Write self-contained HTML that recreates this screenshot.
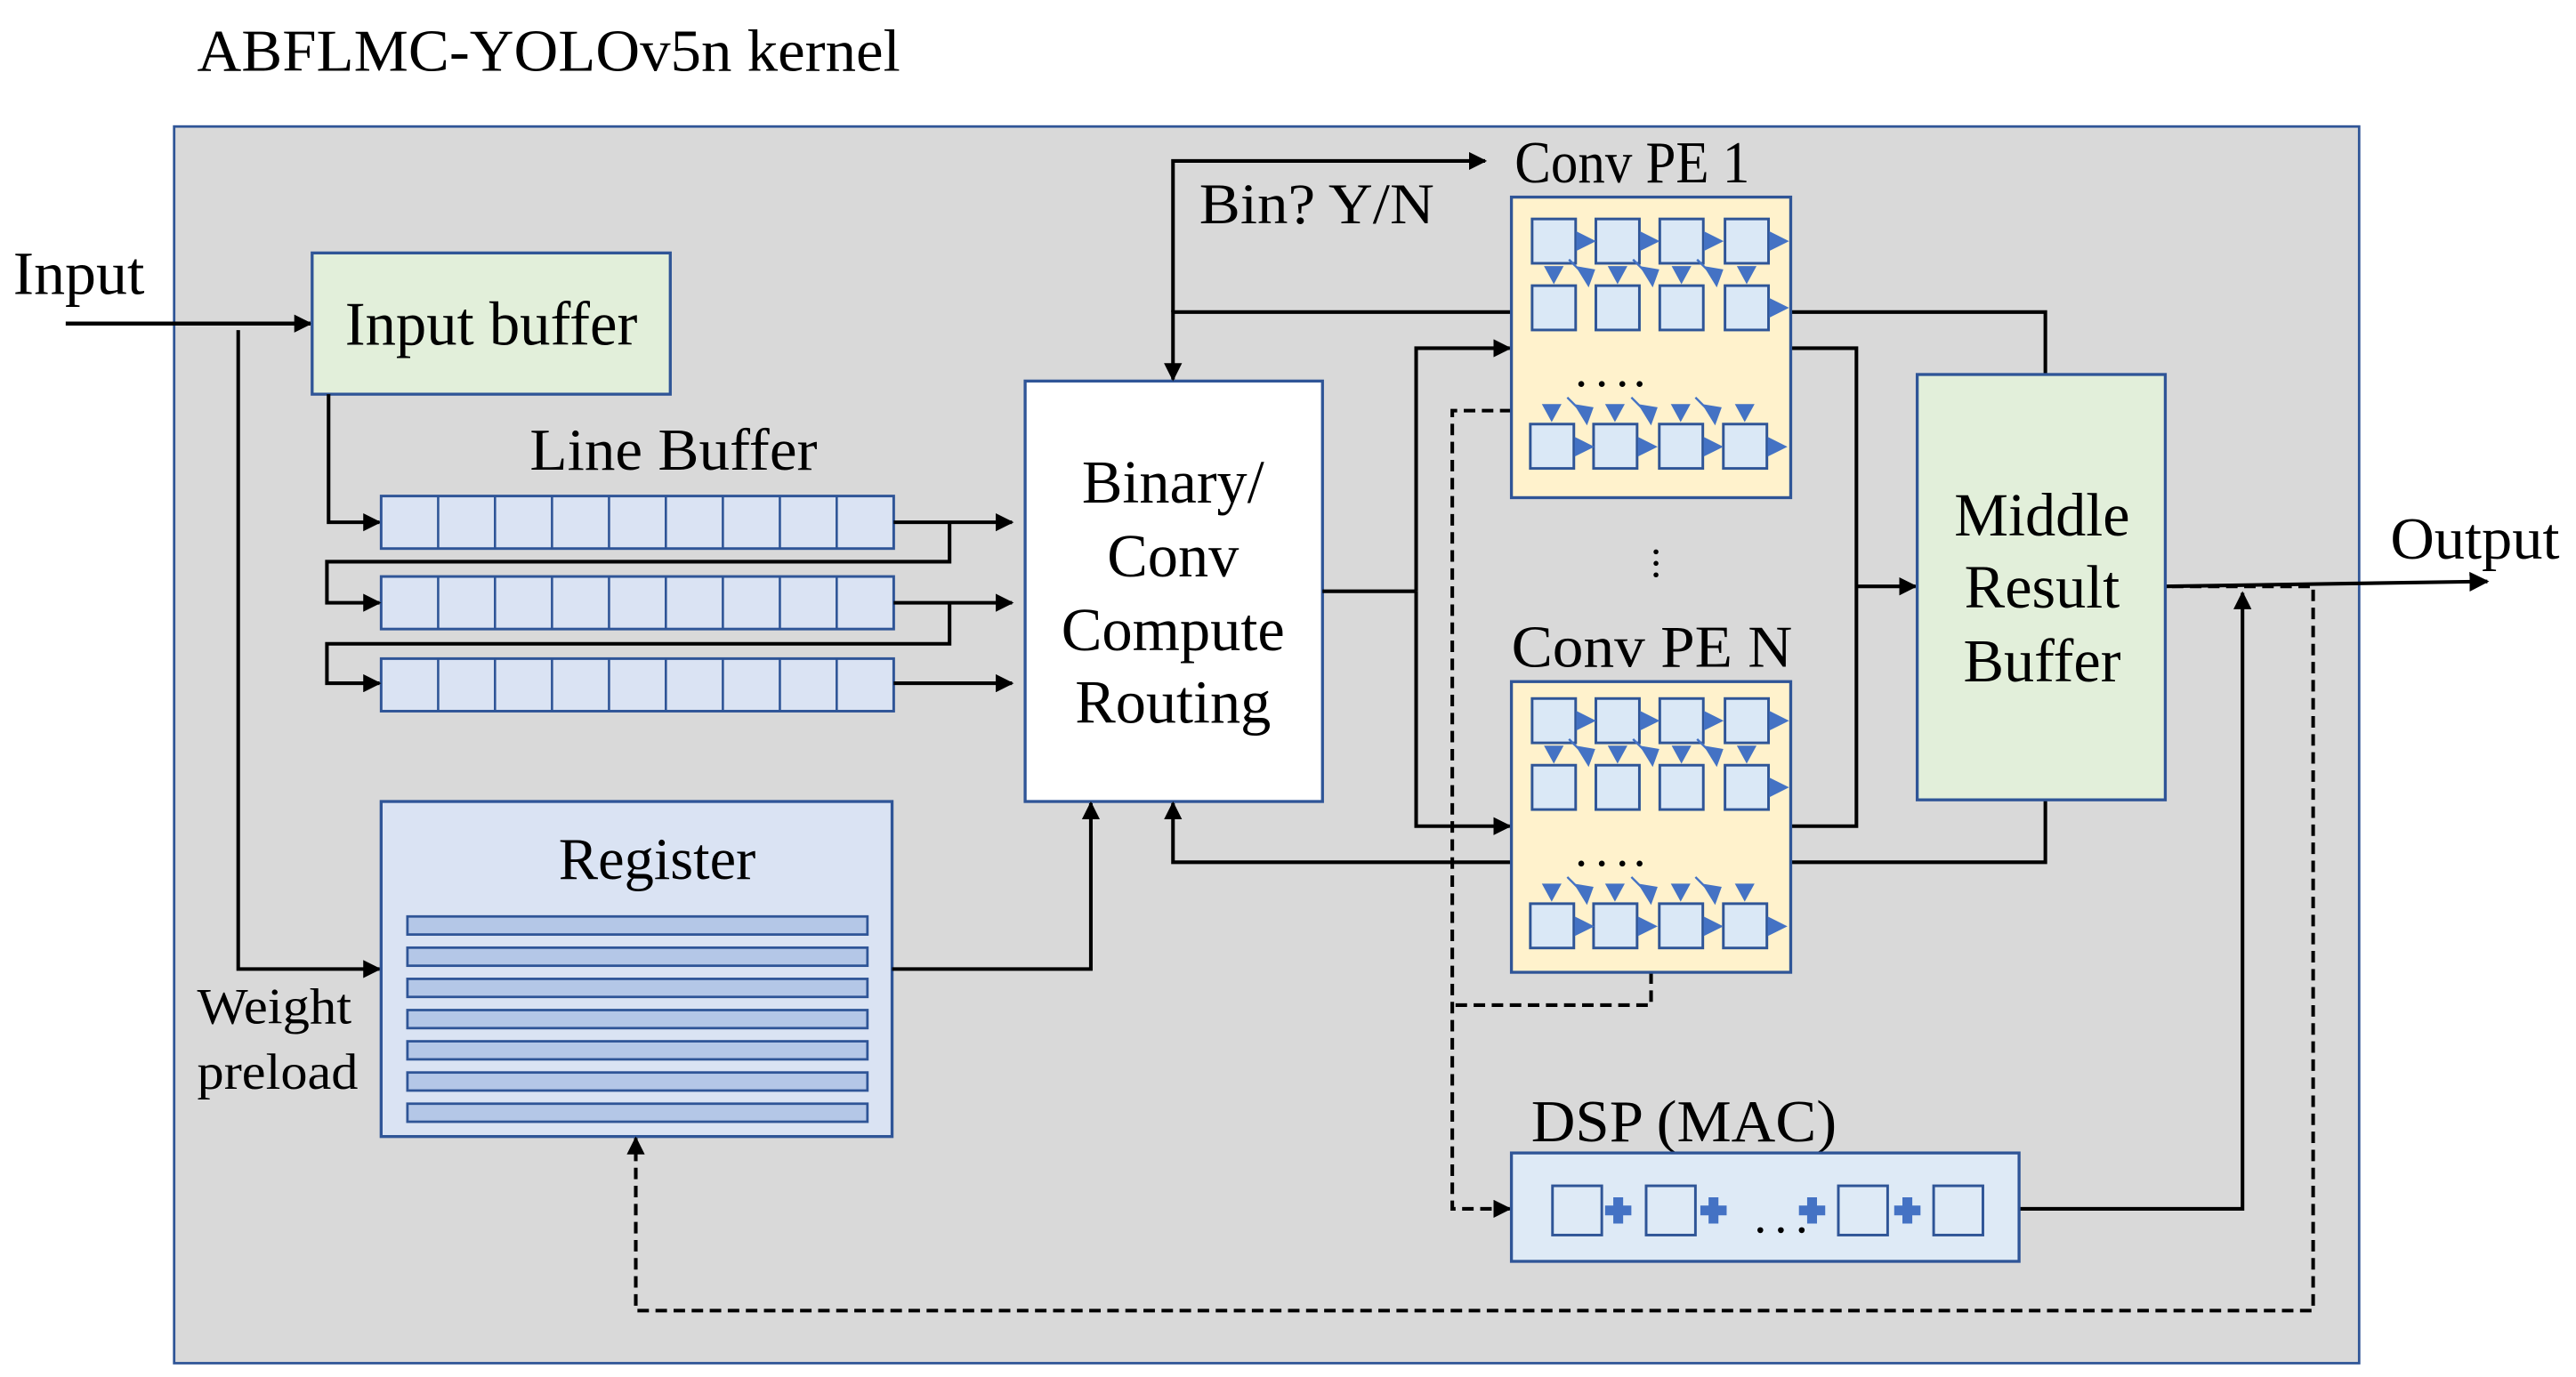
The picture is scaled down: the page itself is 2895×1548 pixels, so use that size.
<!DOCTYPE html>
<html><head><meta charset="utf-8"><style>
html,body{margin:0;padding:0;background:#fff;}
svg{display:block;}
text{font-family:"Liberation Serif",serif;fill:#000;}
</style></head><body>
<svg width="2895" height="1548" viewBox="0 0 1568 838.4" xmlns="http://www.w3.org/2000/svg">
<defs>
<marker id="ah" viewBox="0 0 10 10" refX="9" refY="5" markerWidth="11" markerHeight="11" orient="auto" markerUnits="userSpaceOnUse">
<path d="M0,0 L10,5 L0,10 z" fill="#000"/></marker>
<marker id="ah2" viewBox="0 0 10 10" refX="9" refY="5" markerWidth="12" markerHeight="12" orient="auto" markerUnits="userSpaceOnUse">
<path d="M0,0 L10,5 L0,10 z" fill="#000"/></marker>
<g id="sq"><rect width="26.5" height="27" fill="#dae8f6" stroke="#2f5597" stroke-width="1.6"/></g>
<g id="rt"><path d="M0,-6 L12,0 L0,6 z" fill="#4472c4"/></g>
<g id="dn"><path d="M-6,0 L6,0 L0,11 z" fill="#4472c4"/></g>
<g id="dg"><line x1="-9" y1="-7" x2="-2" y2="0" stroke="#4472c4" stroke-width="1.3"/><path d="M-5,-3 L7,-1 L3,10 z" fill="#4472c4"/></g>
<g id="pe">
<use href="#sq" x="12.6" y="13.3"/><use href="#sq" x="51.4" y="13.3"/><use href="#sq" x="90.3" y="13.3"/><use href="#sq" x="130" y="13.3"/>
<use href="#rt" x="39.5" y="26.8"/><use href="#rt" x="78.3" y="26.8"/><use href="#rt" x="117.2" y="26.8"/><use href="#rt" x="157" y="26.8"/>
<use href="#sq" x="12.6" y="53.9"/><use href="#sq" x="51.4" y="53.9"/><use href="#sq" x="90.3" y="53.9"/><use href="#sq" x="130" y="53.9"/>
<use href="#rt" x="157" y="67.4"/>
<use href="#dn" x="25.8" y="42"/><use href="#dn" x="64.6" y="42"/><use href="#dn" x="103.5" y="42"/><use href="#dn" x="143.2" y="42"/>
<use href="#dg" x="44" y="45"/><use href="#dg" x="83" y="45"/><use href="#dg" x="122" y="45"/>
<circle cx="42.5" cy="113.8" r="1.8"/><circle cx="55" cy="113.8" r="1.8"/><circle cx="67.5" cy="113.8" r="1.8"/><circle cx="78" cy="113.8" r="1.8"/>
<use href="#sq" x="11.5" y="138.2"/><use href="#sq" x="50" y="138.2"/><use href="#sq" x="90" y="138.2"/><use href="#sq" x="129" y="138.2"/>
<use href="#rt" x="38.5" y="152"/><use href="#rt" x="77" y="152"/><use href="#rt" x="117" y="152"/><use href="#rt" x="156" y="152"/>
<use href="#dn" x="24.5" y="126"/><use href="#dn" x="63" y="126"/><use href="#dn" x="103" y="126"/><use href="#dn" x="142" y="126"/>
<use href="#dg" x="43" y="129"/><use href="#dg" x="82" y="129"/><use href="#dg" x="121" y="129"/>
</g>
</defs>
<rect width="1568" height="838.4" fill="#fff"/>
<text x="120" y="43" font-size="36" textLength="428" lengthAdjust="spacingAndGlyphs">ABFLMC-YOLOv5n kernel</text>
<rect x="106" y="77" width="1330" height="753" fill="#d9d9d9" stroke="#2f5597" stroke-width="1.5"/>

<text x="8" y="179" font-size="37" textLength="80" lengthAdjust="spacingAndGlyphs">Input</text>
<line x1="40" y1="197" x2="189" y2="197" stroke="#000" stroke-width="2.5" marker-end="url(#ah)"/>
<rect x="190" y="154" width="218" height="86" fill="#e2efda" stroke="#2f5597" stroke-width="1.8"/>
<text x="299" y="210" font-size="38" text-anchor="middle" textLength="178" lengthAdjust="spacingAndGlyphs">Input buffer</text>
<polyline points="145,201 145,590 231,590" fill="none" stroke="#000" stroke-width="2.2" marker-end="url(#ah)"/>
<text x="120" y="623" font-size="31" textLength="94" lengthAdjust="spacingAndGlyphs">Weight</text>
<text x="120" y="663" font-size="31" textLength="98" lengthAdjust="spacingAndGlyphs">preload</text>

<text x="410" y="286" font-size="36" text-anchor="middle" textLength="175" lengthAdjust="spacingAndGlyphs">Line Buffer</text>
<polyline points="200,240 200,318 231,318" fill="none" stroke="#000" stroke-width="2.2" marker-end="url(#ah)"/>
<g stroke="#2f5597" stroke-width="1.6" fill="#dae3f3">
<rect x="232" y="302" width="312" height="32"/><rect x="232" y="351" width="312" height="32"/><rect x="232" y="401" width="312" height="32"/>
</g>
<g stroke="#2f5597" stroke-width="1.4">
<line x1="266.7" y1="302" x2="266.7" y2="334"/><line x1="301.3" y1="302" x2="301.3" y2="334"/><line x1="336" y1="302" x2="336" y2="334"/><line x1="370.7" y1="302" x2="370.7" y2="334"/><line x1="405.3" y1="302" x2="405.3" y2="334"/><line x1="440" y1="302" x2="440" y2="334"/><line x1="474.7" y1="302" x2="474.7" y2="334"/><line x1="509.3" y1="302" x2="509.3" y2="334"/>
<line x1="266.7" y1="351" x2="266.7" y2="383"/><line x1="301.3" y1="351" x2="301.3" y2="383"/><line x1="336" y1="351" x2="336" y2="383"/><line x1="370.7" y1="351" x2="370.7" y2="383"/><line x1="405.3" y1="351" x2="405.3" y2="383"/><line x1="440" y1="351" x2="440" y2="383"/><line x1="474.7" y1="351" x2="474.7" y2="383"/><line x1="509.3" y1="351" x2="509.3" y2="383"/>
<line x1="266.7" y1="401" x2="266.7" y2="433"/><line x1="301.3" y1="401" x2="301.3" y2="433"/><line x1="336" y1="401" x2="336" y2="433"/><line x1="370.7" y1="401" x2="370.7" y2="433"/><line x1="405.3" y1="401" x2="405.3" y2="433"/><line x1="440" y1="401" x2="440" y2="433"/><line x1="474.7" y1="401" x2="474.7" y2="433"/><line x1="509.3" y1="401" x2="509.3" y2="433"/>
</g>
<g stroke="#000" stroke-width="2.2" fill="none">
<line x1="544" y1="318" x2="616" y2="318" marker-end="url(#ah)"/>
<line x1="544" y1="367" x2="616" y2="367" marker-end="url(#ah)"/>
<line x1="544" y1="416" x2="616" y2="416" marker-end="url(#ah)"/>
<polyline points="578,318 578,342 199,342 199,367 231,367" marker-end="url(#ah)"/>
<polyline points="578,367 578,392 199,392 199,416 231,416" marker-end="url(#ah)"/>
</g>

<rect x="624" y="232" width="181" height="256" fill="#fff" stroke="#2f5597" stroke-width="1.8"/>
<g font-size="37" text-anchor="middle">
<text x="714" y="306">Binary/</text><text x="714" y="351">Conv</text><text x="714" y="396" textLength="136" lengthAdjust="spacingAndGlyphs">Compute</text><text x="714" y="440">Routing</text>
</g>

<rect x="232" y="488" width="311" height="204" fill="#dae3f3" stroke="#2f5597" stroke-width="1.8"/>
<text x="400" y="535" font-size="36" text-anchor="middle">Register</text>
<g fill="#b4c7e7" stroke="#2f5597" stroke-width="1.5">
<rect x="248" y="558" width="280" height="11"/><rect x="248" y="577" width="280" height="11"/><rect x="248" y="596" width="280" height="11"/><rect x="248" y="615" width="280" height="11"/><rect x="248" y="634" width="280" height="11"/><rect x="248" y="653" width="280" height="11"/><rect x="248" y="672" width="280" height="11"/>
</g>

<g stroke="#000" stroke-width="2.2" fill="none">
<polyline points="543,590 664,590 664,489" marker-end="url(#ah)"/>
<polyline points="920,525 714,525 714,489" marker-end="url(#ah)"/>
<polyline points="714,190 714,98 904,98" marker-end="url(#ah)"/>
<polyline points="920,190 714,190 714,231" marker-end="url(#ah)"/>
<polyline points="805,360 862,360"/>
<polyline points="862,360 862,212 919,212" marker-end="url(#ah)"/>
<polyline points="862,360 862,503 919,503" marker-end="url(#ah)"/>
<polyline points="1090,190 1245,190 1245,228"/>
<polyline points="1090,212 1130,212 1130,503 1090,503"/>
<line x1="1130" y1="357" x2="1166" y2="357" marker-end="url(#ah)"/>
<polyline points="1090,525 1245,525 1245,487"/>
<line x1="1318" y1="357" x2="1514" y2="354" marker-end="url(#ah2)"/>
<polyline points="1229,736 1365,736 1365,361" marker-end="url(#ah)"/>
</g>
<text x="730" y="136" font-size="35" textLength="143" lengthAdjust="spacingAndGlyphs">Bin? Y/N</text>
<g stroke="#000" stroke-width="2.2" fill="none" stroke-dasharray="7,4">
<polyline points="920,250 884,250 884,736 919,736" marker-end="url(#ah)"/>
<polyline points="1005,592 1005,612 884,612"/>
<polyline points="1322,357 1408,357 1408,798 387,798 387,693" marker-end="url(#ah)"/>
</g>

<text x="922" y="111" font-size="36" textLength="143" lengthAdjust="spacingAndGlyphs">Conv PE 1</text>
<rect x="920" y="120" width="170" height="183" fill="#fff2cc" stroke="#2f5597" stroke-width="1.8"/>
<use href="#pe" x="920" y="120"/>
<circle cx="1008" cy="336" r="1.5"/><circle cx="1008" cy="343" r="1.5"/><circle cx="1008" cy="350" r="1.5"/>
<text x="920" y="406" font-size="36" textLength="171" lengthAdjust="spacingAndGlyphs">Conv PE N</text>
<rect x="920" y="415" width="170" height="177" fill="#fff2cc" stroke="#2f5597" stroke-width="1.8"/>
<use href="#pe" x="920" y="412"/>

<rect x="1167" y="228" width="151" height="259" fill="#e2efda" stroke="#2f5597" stroke-width="1.8"/>
<g font-size="37" text-anchor="middle">
<text x="1243" y="326">Middle</text><text x="1243" y="370">Result</text><text x="1243" y="415">Buffer</text>
</g>
<text x="1455" y="340" font-size="36" textLength="103" lengthAdjust="spacingAndGlyphs">Output</text>

<text x="932" y="695" font-size="36" textLength="186" lengthAdjust="spacingAndGlyphs">DSP (MAC)</text>
<rect x="920" y="702" width="309" height="66" fill="#deeaf6" stroke="#2f5597" stroke-width="1.8"/>
<g fill="none" stroke="#2f5597" stroke-width="1.6">
<rect x="945" y="722" width="30" height="30"/><rect x="1002" y="722" width="30" height="30"/><rect x="1119" y="722" width="30" height="30"/><rect x="1177" y="722" width="30" height="30"/>
</g>
<g fill="#4472c4">
<path d="M985,730 h6 v5 h5 v6 h-5 v5 h-6 v-5 h-5 v-6 h5 z" transform="translate(-3,-1)"/>
<path d="M1043,730 h6 v5 h5 v6 h-5 v5 h-6 v-5 h-5 v-6 h5 z" transform="translate(-3,-1)"/>
<path d="M1102,730 h6 v5 h5 v6 h-5 v5 h-6 v-5 h-5 v-6 h5 z" transform="translate(-2,-1)"/>
<path d="M1160,730 h6 v5 h5 v6 h-5 v5 h-6 v-5 h-5 v-6 h5 z" transform="translate(-2,-1)"/>
</g>
<circle cx="1071.5" cy="749" r="1.8"/><circle cx="1084" cy="749" r="1.8"/><circle cx="1096.7" cy="749" r="1.8"/>
</svg>
</body></html>
